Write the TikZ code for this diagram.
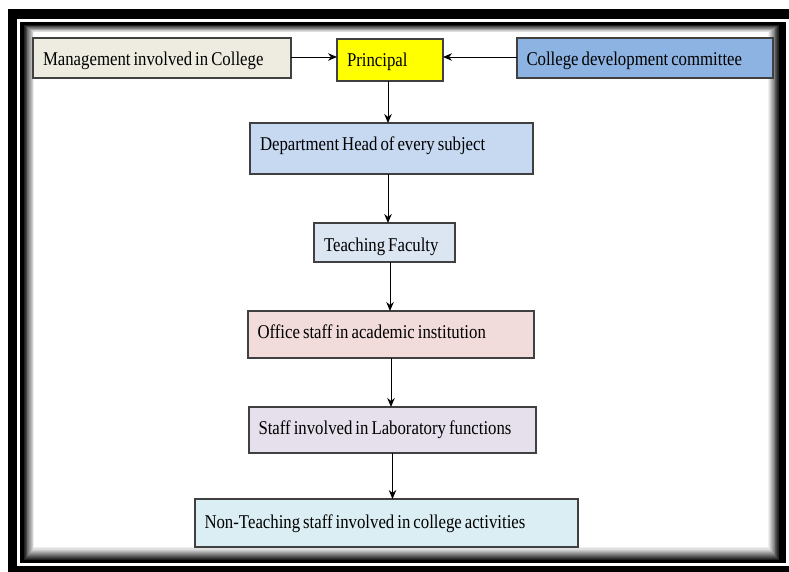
\documentclass[tikz,border=0pt]{standalone}
\usepackage{fontspec}
\setmainfont{Liberation Serif}[FakeStretch=0.86]
\usetikzlibrary{arrows.meta,calc}
\definecolor{cMan}{HTML}{EEECE1}
\definecolor{cPri}{HTML}{FFFF00}
\definecolor{cCol}{HTML}{8DB3E2}
\definecolor{cDep}{HTML}{C6D9F1}
\definecolor{cTea}{HTML}{DCE6F2}
\definecolor{cOff}{HTML}{F2DCDB}
\definecolor{cLab}{HTML}{E5E0EC}
\definecolor{cNon}{HTML}{DAEEF3}
\definecolor{cEdge}{HTML}{404040}
\newcommand\boxfont{\fontsize{19.5}{22}\selectfont}
\begin{document}
\begin{tikzpicture}[x=1pt,y=-1pt,
  box/.style={draw=cEdge,line width=1.3pt,anchor=north west,inner xsep=10pt,inner ysep=0pt,outer sep=0pt,
    align=left,font=\boxfont,text height=13pt,text depth=0pt,
    execute at begin node={\spaceskip=3pt\relax\xspaceskip=3pt\relax}},
  arr/.style={draw=black,line width=1pt,-{Stealth[length=9pt,width=7.5pt]}}]
\useasboundingbox (0,0) rectangle (789,571);
\fill[white] (0,0) rectangle (789,571);
% frame
\fill[black] (8,9) rectangle (800,580);
\fill[white] (17,19) rectangle (789,566);
\fill[black] (20,22) rectangle (786,563);
\foreach \i in {0,...,12}{
  \pgfmathsetmacro\c{max(0,88-\i*7.5)}
  \fill[black!\c] ({24+\i*0.85},{25+\i*0.6}) rectangle ({779-\i*0.9},{560-\i*1.05});
}
\fill[white] (35,33) rectangle (768,546);
% boxes
\node[box,fill=cMan,minimum width=258pt,minimum height=40pt,text width=238pt,text height=14pt] (m) at (33,38) {Management involved in College};
\node[box,fill=cPri,minimum width=106pt,minimum height=42pt,text width=86pt] (p) at (337,39) {Principal};
\node[box,fill=cCol,minimum width=256pt,minimum height=40pt,text width=237pt,inner xsep=9.5pt,text height=14pt] (c) at (517,38) {College development committee};
\node[box,fill=cDep,minimum width=283pt,minimum height=51pt,text width=263pt,text depth=10pt] (d) at (250,123) {Department Head of every subject};
\node[box,fill=cTea,minimum width=141pt,minimum height=39pt,text width=121pt,text height=17pt] (t) at (314,223) {Teaching Faculty};
\node[box,fill=cOff,minimum width=286pt,minimum height=47pt,text width=267pt,inner xsep=9.5pt,text depth=6pt] (o) at (248,311) {Office staff in academic institution};
\node[box,fill=cLab,minimum width=287pt,minimum height=46pt,text width=268pt,inner xsep=9.5pt,text depth=5pt] (l) at (249,407) {Staff involved in Laboratory functions};
\node[box,fill=cNon,minimum width=383pt,minimum height=48pt,text width=364pt,inner xsep=9.5pt,text depth=3pt] (n) at (195,499) {Non-Teaching staff involved in college activities};
% connectors
\draw[arr] ([yshift=1pt]m.east) -- ([yshift=1pt]m.east -| p.west);
\draw[arr] ([yshift=1pt]c.west) -- ([yshift=1pt]c.west -| p.east);
\draw[arr] ([xshift=-2pt]p.south) -- ([xshift=-2pt]p.south |- d.north);
\draw[arr] ([xshift=-3.5pt]d.south) -- ([xshift=-3.5pt]d.south |- t.north);
\draw[arr] ([xshift=-1pt]o.north |- t.south) -- ([xshift=-1pt]o.north);
\draw[arr] (o.south) -- (o.south |- l.north);
\draw[arr] (l.south) -- (l.south |- n.north);
\end{tikzpicture}
\end{document}
